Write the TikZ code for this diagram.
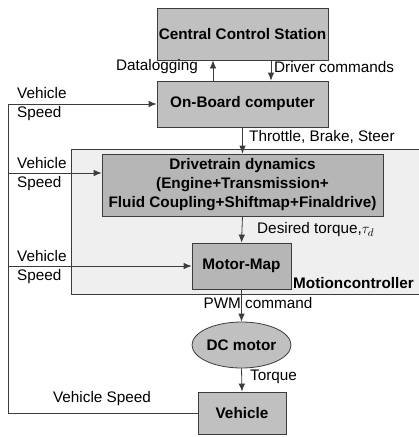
\documentclass[tikz,border=0pt]{standalone}
\usepackage{fontspec}
\setmainfont{Liberation Sans}
\usetikzlibrary{arrows.meta}
\usetikzlibrary{shapes.geometric}
\definecolor{boxgray}{RGB}{192,192,192}
\definecolor{dboxgray}{RGB}{182,182,182}
\definecolor{mcgray}{RGB}{239,239,239}
\definecolor{linegray}{RGB}{60,60,60}

\tikzset{
  block/.style={draw=linegray, line width=0.8pt, fill=boxgray, inner sep=0pt,
    font=\fontsize{15.3}{19}\selectfont\bfseries, align=center},
  arr/.style={draw=linegray, line width=0.8pt, -{Latex[length=8pt,width=6.5pt]}},
  lbl/.style={inner sep=0pt, align=left, font=\fontsize{15.3}{19}\selectfont}
}

\begin{document}
\begin{tikzpicture}[x=1pt, y=-1pt, font=\fontsize{15.3}{19}\selectfont]
\useasboundingbox (0,0) rectangle (419,437);

% motion controller background
\draw[draw=linegray, line width=0.8pt, fill=mcgray] (71,149) rectangle (430,294);
\node[lbl, font=\fontsize{15.3}{19}\selectfont\bfseries, anchor=west] (mclbl) at (293,283) {Motioncontroller};

% blocks
\node[block, minimum width=171pt, minimum height=52pt] (ccs) at (242.5,34) {Central Control Station};
\node[block, minimum width=171pt, minimum height=46pt] (obc) at (242.5,104) {On-Board computer};
\node[block, fill=dboxgray, minimum width=281pt, minimum height=62pt] (drive) at (242.5,185)
  {Drivetrain dynamics\\(Engine+Transmission+\\Fluid Coupling+Shiftmap+Finaldrive)};
\node[block, fill=dboxgray, minimum width=99pt, minimum height=46pt] (mmap) at (241.5,266) {Motor-Map};
\node[block, ellipse, minimum width=99pt, minimum height=46pt] (dcm) at (241.5,345) {DC motor};
\node[block, minimum width=88pt, minimum height=42pt] (veh) at (242,413) {Vehicle};

% connectors
\draw[arr] ([xshift=-29.5pt]obc.north) -- ([xshift=-29.5pt]ccs.south);
\draw[arr] ([xshift=28.5pt]ccs.south) -- ([xshift=28.5pt]obc.north);
\draw[arr] (obc.south) -- (drive.north);
\draw[arr] (drive.south) -- (mmap.north);
\draw[arr] (mmap.south) -- (dcm.north);
\draw[arr] (dcm.south) -- (veh.north);

% feedback of vehicle speed
\coordinate (fb) at (8,413);
\coordinate (drivein) at ([yshift=12pt]drive.west);
\draw[arr] (veh.west) -- (fb) |- (obc.west);
\draw[arr] (fb |- drivein) -- (drivein);
\draw[arr] (fb |- mmap.west) -- (mmap.west);

% labels
\node[lbl, anchor=east] (dlog) at (198,67) {Datalogging};
\node[lbl, anchor=west] (dcmd) at (274,67) {Driver commands};
\node[lbl, anchor=west] (vs1) at (17,104) {Vehicle\\Speed};
\node[lbl, anchor=west] (tbs) at (249,137) {Throttle, Brake, Steer};
\node[lbl, anchor=west] (vs2) at (17,174) {Vehicle\\Speed};
\node[lbl, anchor=west] (dtq) at (257,230) {Desired torque,$\tau_d$};
\node[lbl, anchor=west] (vs3) at (17,267) {Vehicle\\Speed};
\node[lbl] (pwm) at (258,303) {PWM command};
\node[lbl, anchor=west] (trq) at (250,377) {Torque};
\node[lbl] (vs4) at (102,399) {Vehicle Speed};

\end{tikzpicture}
\end{document}
